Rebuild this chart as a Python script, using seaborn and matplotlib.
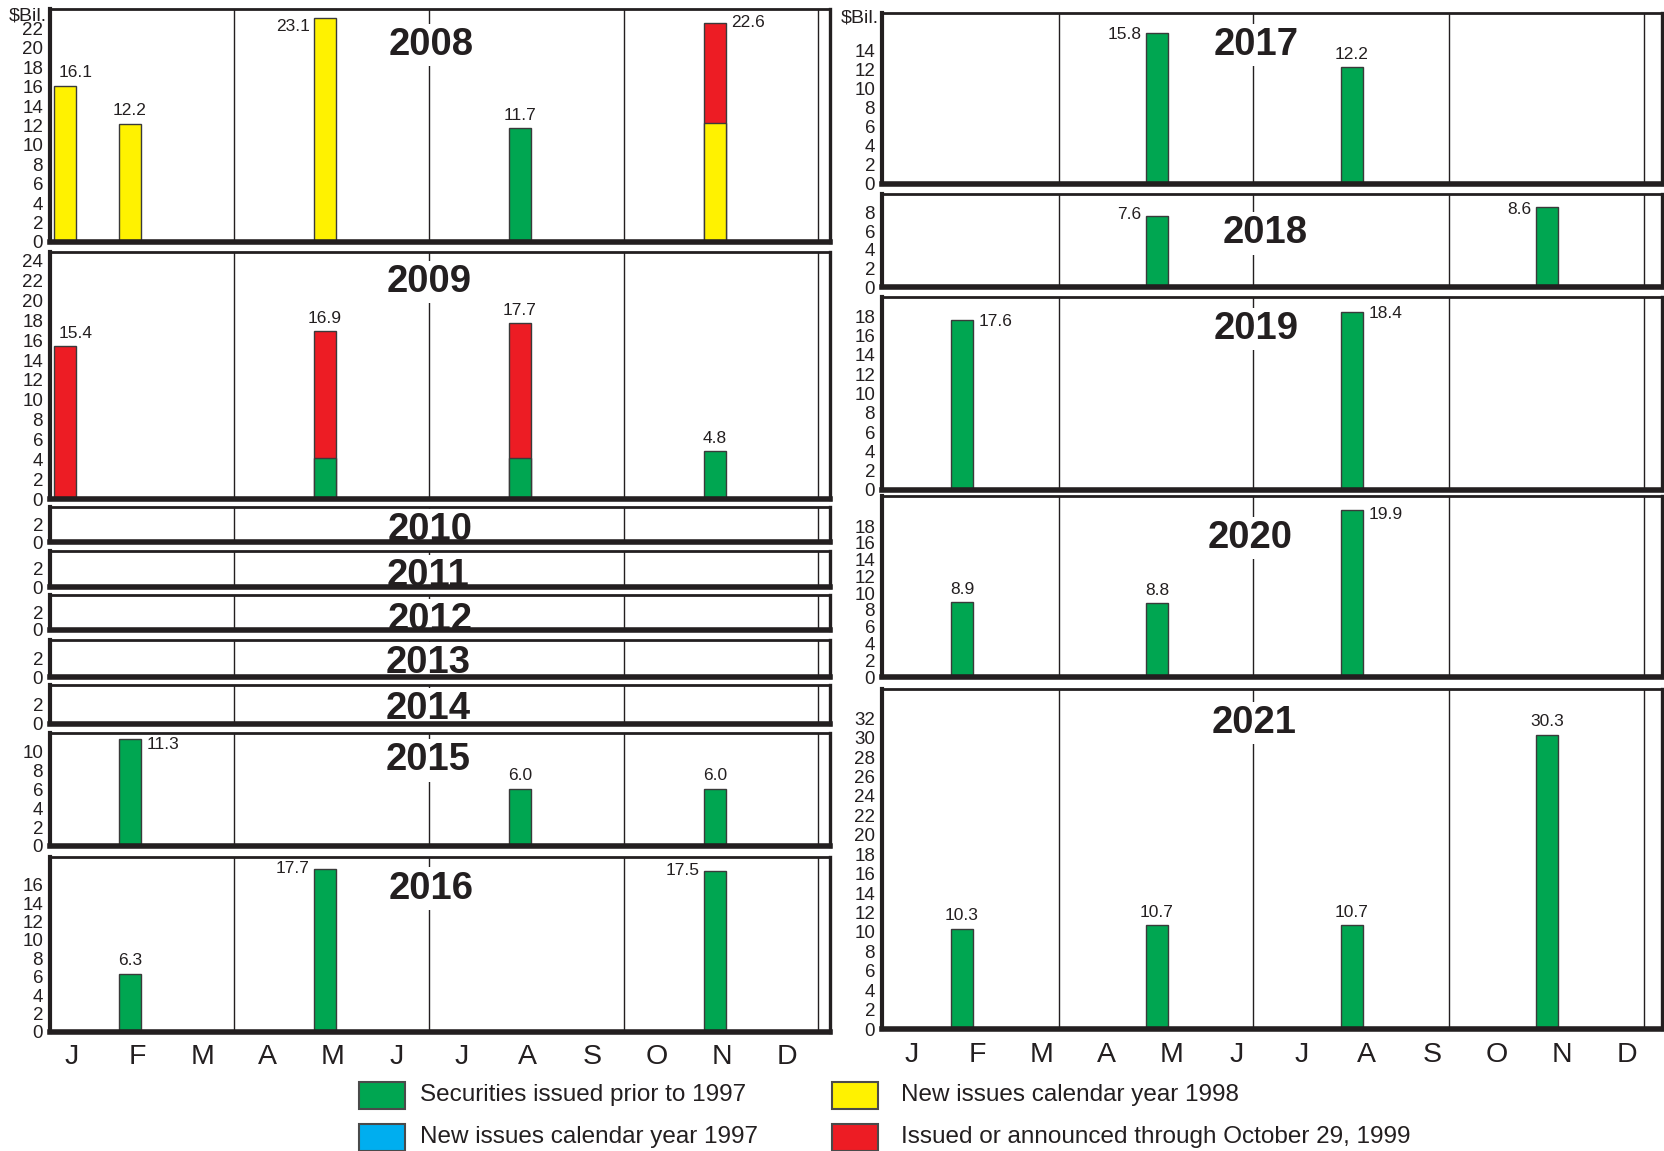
import numpy as np
import pandas as pd
import matplotlib
matplotlib.use("Agg")
import matplotlib.pyplot as plt
import matplotlib.transforms as mtransforms
from matplotlib.patches import Rectangle
import seaborn as sns

# ---------------------------------------------------------------- data ----
MONTHS = ["Jan", "Feb", "Mar", "Apr", "May", "Jun",
          "Jul", "Aug", "Sep", "Oct", "Nov", "Dec"]
MONTH_LETTERS = ["J", "F", "M", "A", "M", "J", "J", "A", "S", "O", "N", "D"]

SERIES = ["Securities issued prior to 1997",
          "New issues calendar year 1997",
          "New issues calendar year 1998",
          "Issued or announced through October 29, 1999"]
SERIES_COLORS = ["#00A651", "#00AEEF", "#FFF200", "#ED1C24"]

# Maturing amounts in $ billions, one list set per series (stacked in SERIES order)
prior97_year = [2008, 2009, 2009, 2009, 2015, 2015, 2015, 2016, 2016, 2016,
                2017, 2017, 2018, 2018, 2019, 2019, 2020, 2020, 2020,
                2021, 2021, 2021, 2021]
prior97_month = ["Aug", "May", "Aug", "Nov", "Feb", "Aug", "Nov", "Feb", "May", "Nov",
                 "May", "Aug", "May", "Nov", "Feb", "Aug", "Feb", "May", "Aug",
                 "Feb", "May", "Aug", "Nov"]
prior97_value = [11.7, 4.1, 4.1, 4.8, 11.3, 6.0, 6.0, 6.3, 17.7, 17.5,
                 15.8, 12.2, 7.6, 8.6, 17.6, 18.4, 8.9, 8.8, 19.9,
                 10.3, 10.7, 10.7, 30.3]

new97_year = []
new97_month = []
new97_value = []

new98_year = [2008, 2008, 2008, 2008]
new98_month = ["Jan", "Feb", "May", "Nov"]
new98_value = [16.1, 12.2, 23.1, 12.3]

oct99_year = [2008, 2009, 2009, 2009]
oct99_month = ["Nov", "Jan", "May", "Aug"]
oct99_value = [10.3, 15.4, 12.8, 13.6]

LEFT_YEARS = [2008, 2009, 2010, 2011, 2012, 2013, 2014, 2015, 2016]
RIGHT_YEARS = [2017, 2018, 2019, 2020, 2021]

# ------------------------------------------------------------- tidy frame --
frames = []
for name, yrs, mons, vals in [
        (SERIES[0], prior97_year, prior97_month, prior97_value),
        (SERIES[1], new97_year, new97_month, new97_value),
        (SERIES[2], new98_year, new98_month, new98_value),
        (SERIES[3], oct99_year, oct99_month, oct99_value)]:
    frames.append(pd.DataFrame({"year": pd.Series(yrs, dtype=int),
                                "month": pd.Series(mons, dtype=object),
                                "value": pd.Series(vals, dtype=float),
                                "series": name}))
df = pd.concat(frames, ignore_index=True)
df["order"] = df["series"].map({s: i for i, s in enumerate(SERIES)})
df = df.sort_values(["year", "month", "order"])
# top edge of each stacked segment
df["cum"] = df.groupby(["year", "month"])["value"].cumsum()
totals = df.groupby(["year", "month"], as_index=False)["value"].sum()

# --------------------------------------------------------------- styling --
sns.set_style("white")
plt.rcParams["font.family"] = ["Liberation Sans", "DejaVu Sans"]
INK = "#231F20"

W, H = 1664, 1151
fig = plt.figure(figsize=(W / 100, H / 100), dpi=100)
fig.patch.set_facecolor("white")

# panel geometry: column, top px, baseline px, y max, top tick, top labelled tick,
# title x (bar coords), title y (axes fraction)
PANELS = {
    2008: (0, 9, 242, 24.0, 22, 22, 5.63, 0.858),
    2009: (0, 252, 499, 24.9, 24, 24, 5.6, 0.89),
    2010: (0, 507, 542, 3.95, 2, 2, 5.62, 0.43),
    2011: (0, 551, 587, 3.95, 2, 2, 5.59, 0.39),
    2012: (0, 595, 630, 3.95, 2, 2, 5.62, 0.37),
    2013: (0, 640, 677, 3.95, 2, 2, 5.59, 0.455),
    2014: (0, 685, 724, 3.95, 2, 2, 5.59, 0.466),
    2015: (0, 733, 846, 11.9, 10, 10, 5.58, 0.785),
    2016: (0, 857, 1032, 19.0, 18, 16, 5.64, 0.838),
    2017: (1, 13, 184, 17.9, 16, 14, 5.53, 0.83),
    2018: (1, 194, 287, 10.0, 8, 8, 5.67, 0.61),
    2019: (1, 297, 490, 20.0, 18, 18, 5.53, 0.85),
    2020: (1, 496, 677, 21.6, 20, 18, 5.44, 0.784),
    2021: (1, 689, 1029, 35.0, 34, 32, 5.5, 0.91),
}
TITLE_DROP_PX = 3.2
COL_X0 = [50, 882]
COL_W = 780
QUARTER_LINES = [[2.6, 5.6, 8.6, 11.58], [2.49, 5.48, 8.49, 11.5]]
LETTER_OFFSET = [0.11, 0.23]
BAR_W = 0.34

# where each value label sits relative to its bar: (side, vertical nudge in pt)
LABEL_SIDE = {
    (2008, "Jan"): ("ur", 0), (2008, "May"): ("l", -6), (2008, "Nov"): ("r", 0),
    (2009, "Jan"): ("ur", 0),
    (2015, "Feb"): ("r", -4),
    (2016, "May"): ("l", 0), (2016, "Nov"): ("l", 0),
    (2017, "May"): ("l", -1),
    (2018, "May"): ("l", 1), (2018, "Nov"): ("l", -2),
    (2019, "Feb"): ("r", -1), (2019, "Aug"): ("r", -1),
    (2020, "Aug"): ("r", -3),
}


def label_bar(ax, xpos, top, text, side, dy):
    kw = dict(textcoords="offset points", fontsize=12.5, color=INK, zorder=3)
    if side == "c":
        ax.annotate(text, (xpos, top), xytext=(0, 4 + dy), ha="center", va="bottom", **kw)
    elif side == "ur":
        ax.annotate(text, (xpos, top), xytext=(8, 4 + dy), ha="center", va="bottom", **kw)
    elif side == "r":
        ax.annotate(text, (xpos + BAR_W / 2, top), xytext=(4, dy), ha="left", va="center", **kw)
    else:
        ax.annotate(text, (xpos - BAR_W / 2, top), xytext=(-3, dy), ha="right", va="center", **kw)


for year, (col, top_px, base_px, ymax, tick_max, lab_max, tx, ty) in PANELS.items():
    ax = fig.add_axes([COL_X0[col] / W, 1 - base_px / H, COL_W / W, (base_px - top_px) / H])
    ax.set_axisbelow(True)
    sub = df[(df["year"] == year) & (df["value"] > 0)]

    # draw the tallest (cumulative) segment first so lower segments sit on top
    for s, c in reversed(list(zip(SERIES, SERIES_COLORS))):
        part = sub[sub["series"] == s]
        if len(part):
            sns.barplot(data=part, x="month", y="cum", order=MONTHS, color=c,
                        saturation=1, width=BAR_W, errorbar=None,
                        edgecolor="#3a3a3a", linewidth=1.0, ax=ax)

    for xl in QUARTER_LINES[col]:
        ax.axvline(xl, color=INK, lw=1.0, zorder=0.9)

    ax.set_xlim(-0.23, 11.77)
    ax.set_ylim(0, ymax)
    ax.set_xlabel("")
    ax.set_ylabel("")

    yt = np.arange(0, tick_max + 1, 2)
    ax.set_yticks(yt, [str(v) if v <= lab_max else "" for v in yt])
    ax.tick_params(axis="y", direction="in", length=18, width=1.2, pad=5,
                   labelsize=13.5, colors=INK)

    if year in (LEFT_YEARS[-1], RIGHT_YEARS[-1]):
        ax.set_xticks(np.arange(12) + LETTER_OFFSET[col], MONTH_LETTERS)
        ax.tick_params(axis="x", length=0, pad=9, labelsize=20.5, colors=INK)
    else:
        ax.set_xticks([])

    for side, lw in (("left", 3.0), ("bottom", 4.0), ("top", 2.0), ("right", 2.4)):
        ax.spines[side].set_visible(True)
        ax.spines[side].set_color(INK)
        ax.spines[side].set_linewidth(lw)

    trans = mtransforms.blended_transform_factory(ax.transData, ax.transAxes)
    ty_adj = ty - TITLE_DROP_PX / (base_px - top_px)
    ax.text(tx, ty_adj, str(year), transform=trans, ha="center", va="center",
            fontsize=27.5, fontweight="bold", color=INK, zorder=2,
            bbox=dict(boxstyle="square,pad=0.08", fc="white", ec="none"))

    for _, row in totals[totals["year"] == year].iterrows():
        side, dy = LABEL_SIDE.get((year, row["month"]), ("c", 0))
        label_bar(ax, MONTHS.index(row["month"]), row["value"],
                  f"{row['value']:.1f}", side, dy)

    if year in (2008, 2017):
        ax.text(-0.004, 0.968, "$Bil.", transform=ax.transAxes, ha="right",
                va="center", fontsize=14, color=INK)

# ---------------------------------------------------------------- legend --
SWATCH_X = [359, 832]
TEXT_X = [420, 901]
ROW_Y = [1095, 1137]
for i, (name, color) in enumerate(zip(SERIES, SERIES_COLORS)):
    c, r = divmod(i, 2)
    sx, sy = SWATCH_X[c], ROW_Y[r]
    fig.add_artist(Rectangle((sx / W, 1 - (sy + 13.5) / H), 46 / W, 27 / H,
                             transform=fig.transFigure, facecolor=color,
                             edgecolor="#4a4a4a", linewidth=1.5))
    fig.text(TEXT_X[c] / W, 1 - sy / H, name, ha="left", va="center",
             fontsize=17.5, color=INK)

fig.savefig("out.png", dpi=100, facecolor="white")
